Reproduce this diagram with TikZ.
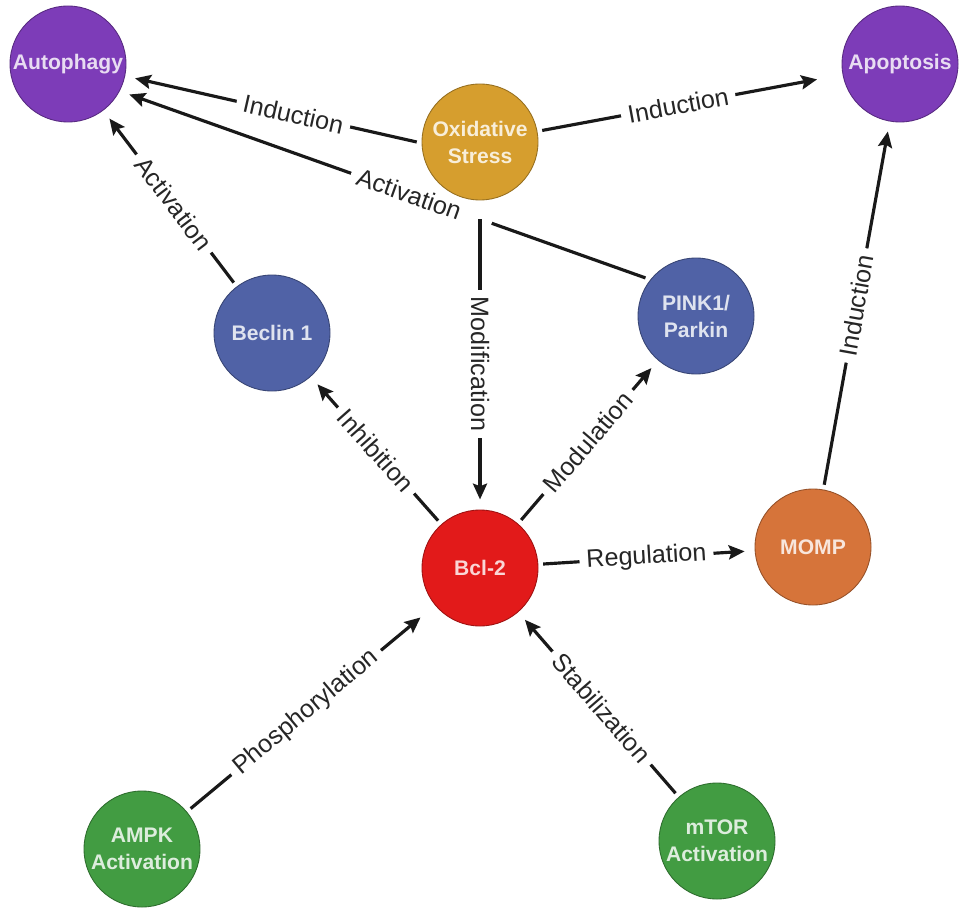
\documentclass[tikz,border=0pt]{standalone}
\usepackage{fontspec}
\setmainfont{Liberation Sans}
\usepackage{xcolor}
\usepackage{tikz}
\definecolor{phagepurple}{RGB}{125, 60, 184}
\definecolor{stressgold}{RGB}{214, 158, 46}
\definecolor{pathblue}{RGB}{80, 98, 166}
\definecolor{bclred}{RGB}{226, 26, 26}
\definecolor{momporange}{RGB}{214, 116, 58}
\definecolor{kinasegreen}{RGB}{66, 156, 66}
\usetikzlibrary{arrows.meta}

\tikzset{
	cell/.style = {draw = #1!70!black, line width = .5pt, circle, minimum size = 2.32cm, inner sep = 0pt, outer sep = 3pt, align = center, fill = #1, text = #1!18!white, font = \bfseries\fontsize{12}{15.4}\selectfont},
	link/.style = {line width = 1.8pt, black!90, -{Stealth[length = 9pt, width = 8pt, inset = 1.5pt]}, shorten > = 3pt},
	tag/.style = {fill = white, sloped, inner xsep = 4pt, inner ysep = 1pt, text = black!85, font = \fontsize{14.3}{16}\selectfont}
}

\begin{document}
\begin{tikzpicture}
	\useasboundingbox (0,0) rectangle (19.38,-18.28);
	
	\node[cell = phagepurple, xshift = 1.36cm, yshift = -1.28cm] (aut) {Autophagy};
	\node[cell = phagepurple, xshift = 18cm, yshift = -1.28cm] (apo) {Apoptosis};
	\node[cell = stressgold, xshift = 9.6cm, yshift = -2.84cm] (ox) {Oxidative\\Stress};
	\node[cell = pathblue, xshift = 5.44cm, yshift = -6.66cm] (bec) {Beclin 1};
	\node[cell = pathblue, xshift = 13.92cm, yshift = -6.32cm] (pink) {PINK1/\\Parkin};
	\node[cell = bclred, xshift = 9.6cm, yshift = -11.36cm] (bcl) {Bcl-2};
	\node[cell = momporange, xshift = 16.26cm, yshift = -10.94cm] (momp) {MOMP};
	\node[cell = kinasegreen, xshift = 2.84cm, yshift = -16.98cm] (ampk) {AMPK\\Activation};
	\node[cell = kinasegreen, xshift = 14.34cm, yshift = -16.82cm] (mtor) {mTOR\\Activation};
	
	\draw[link] (ox.180) -- node[tag, pos = .43] {Induction} (aut.-12);
	\draw[link, shorten > = 12pt] (ox) -- node[tag, pos = .46] {Induction} (apo);
	\draw[link] (bec) -- node[tag, pos = .47] {Activation} (aut);
	
	%	PINK1 to autophagy passes under the stress node
	\draw[link] (pink.143) -- node[tag, pos = .43] {Activation\hspace*{.52cm}} (aut.-27);
	\draw[link, shorten < = 8pt] (ox) -- node[tag, sloped = false, rotate = -90, pos = .53] {Modification} (bcl);
	
	\draw[link] (bcl) -- node[tag] {Inhibition} (bec);
	\draw[link] (bcl) -- node[tag] {Modulation} (pink);
	\draw[link] (bcl) -- node[tag] {Regulation} (momp);
	\draw[link] (momp) -- node[tag] {Induction} (apo);
	
	\draw[link, shorten > = 8pt] (ampk) -- node[tag, pos = .48] {Phosphorylation} (bcl);
	\draw[link] (mtor) -- node[tag, pos = .48] {Stabilization} (bcl);
	
\end{tikzpicture}
\end{document}
